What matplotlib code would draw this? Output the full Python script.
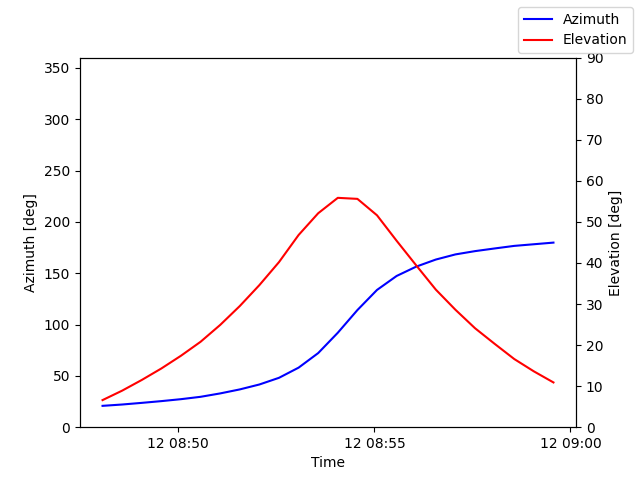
import matplotlib
matplotlib.use("Agg")
import matplotlib.pyplot as plt
import matplotlib.dates as mdates
import pandas as pd

start = "2024-01-12 08:48:04"
n_points = 24
times = pd.date_range(start, periods=n_points, freq="30s")

azimuth = [20.8, 22.1, 23.7, 25.4, 27.3, 29.6, 32.9, 36.8, 41.6, 48.1, 58.0, 72.2,
           92.0, 114.1, 133.7, 147.3, 156.4, 163.3, 168.3, 171.5, 174.1, 176.6, 178.2, 179.8]
elevation = [6.6, 8.9, 11.5, 14.3, 17.4, 20.8, 24.9, 29.5, 34.6, 40.2, 46.8, 52.1,
             55.85, 55.6, 51.6, 45.4, 39.4, 33.5, 28.6, 24.1, 20.3, 16.6, 13.6, 10.9]

fig, ax1 = plt.subplots(figsize=(6.4, 4.8), dpi=100)
ax1.plot(times, azimuth, color="blue", label="Azimuth")
ax1.set_ylim(0, 360)
ax1.set_ylabel("Azimuth [deg]")
ax1.set_xlabel("Time")

ax2 = ax1.twinx()
ax2.plot(times, elevation, color="red", label="Elevation")
ax2.set_ylim(0, 90)
ax2.set_ylabel("Elevation [deg]")

ax1.xaxis.set_major_locator(mdates.MinuteLocator(byminute=range(0, 60, 5)))
ax1.xaxis.set_major_formatter(mdates.DateFormatter("%d %H:%M"))

fig.legend(loc="upper right")
fig.savefig("out.png", dpi=100)
